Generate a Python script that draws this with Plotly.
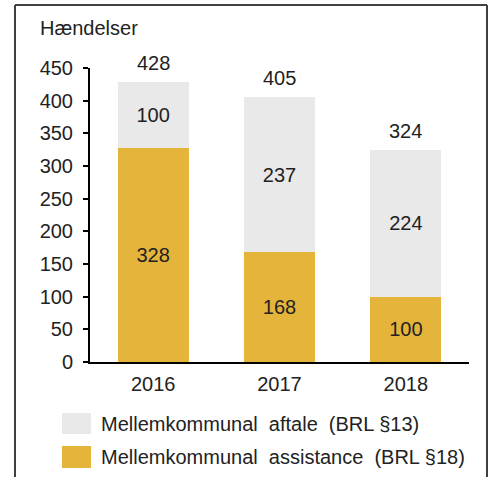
import plotly.graph_objects as go

years = ["2016", "2017", "2018"]
assistance = [328, 168, 100]   # Mellemkommunal assistance (BRL §18)
aftale = [100, 237, 224]       # Mellemkommunal aftale (BRL §13)
totals = [428, 405, 324]
series_names = ["Mellemkommunal\u00a0 aftale\u00a0 (BRL §13)", "Mellemkommunal\u00a0 assistance\u00a0 (BRL §18)"]
y_title = "Hændelser"
y_ticks = [0, 50, 100, 150, 200, 250, 300, 350, 400, 450]

GOLD = "#e4b53a"
GREY = "#e9e9e9"
TXT = "#222222"
FONT = "Liberation Sans, Arial, sans-serif"

W, H = 491, 477
L, R, T, B = 90, 22, 68, 115
pw, ph = W - L - R, H - T - B

def px(x):
    return (x - L) / pw

def py(y):
    return (H - B - y) / ph

fig = go.Figure()
fig.add_bar(x=years, y=assistance, name=series_names[1], marker=dict(color=GOLD, line=dict(width=0)),
            text=[str(v) for v in assistance], textposition="inside", insidetextanchor="middle",
            textfont=dict(size=20, color=TXT, family=FONT), showlegend=False, cliponaxis=False)
fig.add_bar(x=years, y=aftale, name=series_names[0], marker=dict(color=GREY, line=dict(width=0)),
            text=[str(v) for v in aftale], textposition="inside", insidetextanchor="middle",
            textfont=dict(size=20, color=TXT, family=FONT), showlegend=False, cliponaxis=False)

for i, t in enumerate(totals):
    fig.add_annotation(x=i, y=t, xref="x", yref="y", text=str(t), showarrow=False,
                       yanchor="bottom", yshift=6, font=dict(size=20, color=TXT, family=FONT))

# title
fig.add_annotation(x=px(38), y=py(28), xref="paper", yref="paper", text=y_title, showarrow=False,
                   xanchor="left", yanchor="middle", font=dict(size=20, color=TXT, family=FONT))

# legend (manual)
leg = [(series_names[0], GREY, 413, 434), (series_names[1], GOLD, 446, 468)]
for name, col, y0, y1 in leg:
    fig.add_shape(type="rect", xref="paper", yref="paper", x0=px(62), x1=px(91), y0=py(y1), y1=py(y0),
                  fillcolor=col, line=dict(width=0))
    fig.add_annotation(x=px(99), y=py((y0 + y1) / 2), xref="paper", yref="paper", text=name,
                       showarrow=False, xanchor="left", yanchor="middle",
                       font=dict(size=20, color=TXT, family=FONT))

# frame
for x0, y0, x1, y1 in [(15, 5, 15, 480), (15, 5, 487, 5), (487, 5, 487, 480)]:
    fig.add_shape(type="line", xref="paper", yref="paper", x0=px(x0), y0=py(y0), x1=px(x1), y1=py(y1),
                  line=dict(color="#404040", width=2))

fig.update_layout(
    width=W, height=H, margin=dict(l=L, r=R, t=T, b=B, pad=0, autoexpand=False),
    barmode="stack", bargap=0.44,
    paper_bgcolor="white", plot_bgcolor="white",
    font=dict(family=FONT, size=20, color=TXT),
)
fig.update_xaxes(type="category", range=[-0.5, 2.5], showline=True, linecolor="black", linewidth=2,
                 ticks="", showgrid=False, automargin=False, ticklabelstandoff=3,
                 tickfont=dict(size=20, color=TXT, family=FONT))
fig.update_yaxes(range=[0, 450], tickvals=y_ticks, showline=True, linecolor="black", linewidth=2,
                 ticks="outside", ticklen=5, tickwidth=2, tickcolor="black", showgrid=False,
                 zeroline=False, automargin=False,
                 tickfont=dict(size=20, color=TXT, family=FONT), ticklabelstandoff=6)

fig.write_html("out.html", config={"displayModeBar": False},
               post_script="document.body.style.margin='0';document.body.style.overflow='hidden';")
